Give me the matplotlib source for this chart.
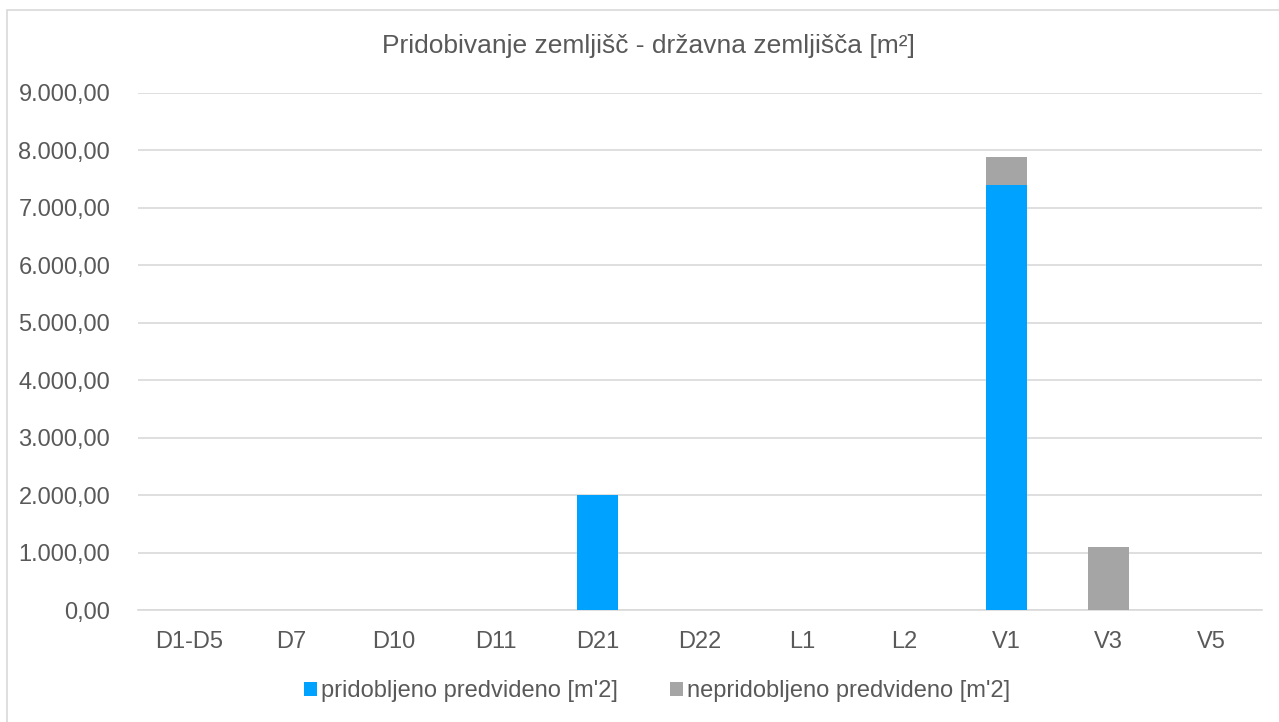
import numpy as np
import matplotlib.pyplot as plt
import matplotlib.ticker as ticker
from matplotlib.patches import Rectangle

# Data
categories = ['D1-D5', 'D7', 'D10', 'D11', 'D21', 'D22', 'L1', 'L2', 'V1', 'V3', 'V5']
pridobljeno = [0, 0, 0, 0, 2000, 0, 0, 0, 7400, 0, 0]
nepridobljeno = [0, 0, 0, 0, 0, 0, 0, 0, 490, 1100, 0]

plt.rcParams['font.family'] = ['Liberation Sans', 'DejaVu Sans']
txt = '#595959'
grid_c = '#d9d9d9'

fig = plt.figure(figsize=(12.79, 7.22), dpi=100)
ax = fig.add_axes([138 / 1279, 1 - 610 / 722, (1262 - 138) / 1279, (610 - 93) / 722])

x = np.arange(len(categories))
ax.bar(x, pridobljeno, width=0.4, color='#00a2ff', label="pridobljeno predvideno [m'2]", zorder=3)
ax.bar(x, nepridobljeno, width=0.4, bottom=pridobljeno, color='#a5a5a5',
       label="nepridobljeno predvideno [m'2]", zorder=3)

ax.set_xlim(-0.5, len(categories) - 0.5)
ax.set_ylim(0, 9000)
ax.yaxis.set_major_locator(ticker.MultipleLocator(1000))
ax.yaxis.set_major_formatter(ticker.FuncFormatter(
    lambda v, p: '{:,.2f}'.format(v).replace(',', 'X').replace('.', ',').replace('X', '.')))
ax.set_xticks(x)
ax.set_xticklabels(categories)

ax.grid(axis='y', color=grid_c, linewidth=1.2, zorder=0)
for s in ['top', 'right', 'left']:
    ax.spines[s].set_visible(False)
ax.spines['bottom'].set_color(grid_c)
ax.spines['bottom'].set_linewidth(1.2)
ax.tick_params(axis='both', length=0, labelsize=17, colors=txt)
ax.tick_params(axis='y', pad=20)
ax.tick_params(axis='x', pad=15)

fig.text(0.507, 1 - 46 / 722, 'Pridobivanje zemljišč - državna zemljišča [m²]',
         ha='center', va='center', fontsize=19, color=txt)

leg = ax.legend(loc='center', bbox_to_anchor=(657 / 1279, 1 - 691 / 722), bbox_transform=fig.transFigure,
                ncol=2, frameon=False, fontsize=17, handlelength=0.55, handleheight=0.55,
                handletextpad=0.17, columnspacing=2.2, borderpad=0)
for t in leg.get_texts():
    t.set_color(txt)

# outer chart border
fig.patches.append(Rectangle((7 / 1279, -0.1), 1.2, 1 - 10 / 722 + 0.1, transform=fig.transFigure,
                             fill=False, edgecolor=grid_c, linewidth=1.2))

fig.savefig('out.png', dpi=100, facecolor='white')
